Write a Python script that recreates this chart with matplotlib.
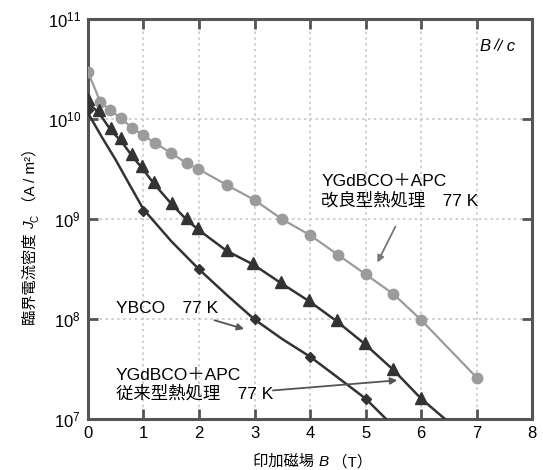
import matplotlib.pyplot as plt

plt.rcParams['font.family'] = ['Liberation Sans', 'Noto Sans CJK JP', 'DejaVu Sans']
plt.rcParams['mathtext.fontset'] = 'custom'
plt.rcParams['mathtext.rm'] = 'Liberation Sans'
plt.rcParams['mathtext.it'] = 'Liberation Sans:italic'

# YGdBCO+APC, improved heat treatment (77 K)
apc_new_b = [0, 0.22, 0.4, 0.59, 0.79, 0.99, 1.2, 1.49, 1.78, 1.99, 2.5, 3.0, 3.49, 4.0, 4.5, 5.0, 5.5, 6.0, 7.0]
apc_new_jc = [2.97e10, 1.49e10, 1.23e10, 1.02e10, 8.2e9, 6.9e9, 5.8e9, 4.6e9, 3.6e9, 3.16e9,
              2.19e9, 1.55e9, 1.0e9, 6.9e8, 4.4e8, 2.8e8, 1.78e8, 9.8e7, 2.6e7]

# YGdBCO+APC, conventional heat treatment (77 K)
apc_old_b = [0, 0.2, 0.42, 0.6, 0.79, 0.98, 1.19, 1.52, 1.78, 1.99, 2.5, 2.98, 3.47, 3.99, 4.48, 4.99, 5.5, 6.0]
apc_old_jc = [1.57e10, 1.23e10, 8.1e9, 6.4e9, 4.5e9, 3.4e9, 2.36e9, 1.44e9, 1.02e9, 8.1e8,
              4.9e8, 3.6e8, 2.36e8, 1.55e8, 9.8e7, 5.7e7, 3.14e7, 1.61e7]
apc_old_line_b = [0, 0.2, 0.42, 0.6, 0.79, 0.98, 1.19, 1.52, 1.78, 1.99, 2.5, 2.98, 3.47, 3.99, 4.48, 4.99, 5.5, 6.0, 6.43]
apc_old_line_jc = [1.45e10, 1.15e10, 7.6e9, 6.0e9, 4.3e9, 3.2e9, 2.25e9, 1.38e9, 9.8e8, 7.8e8,
                   4.8e8, 3.5e8, 2.3e8, 1.5e8, 9.5e7, 5.6e7, 3.1e7, 1.6e7, 1.0e7]

# YBCO (77 K)
ybco_b = [0, 1.0, 2.0, 3.0, 4.0, 5.0]
ybco_jc = [1.23e10, 1.21e9, 3.14e8, 9.9e7, 4.2e7, 1.57e7]
ybco_line_b = [0, 0.25, 0.5, 0.75, 1.0, 1.5, 2.0, 2.5, 3.0, 3.5, 4.0, 4.5, 5.0, 5.37]
ybco_line_jc = [1.15e10, 6.6e9, 3.9e9, 2.2e9, 1.25e9, 6.0e8, 3.14e8, 1.74e8, 9.9e7, 6.3e7, 4.2e7, 2.6e7, 1.6e7, 1.0e7]

x_ticks = [0, 1, 2, 3, 4, 5, 6, 7, 8]
y_ticks = [1e7, 1e8, 1e9, 1e10, 1e11]
y_tick_labels = ['$10^7$', '$10^8$', '$10^9$', '$10^{10}$', '$10^{11}$']

fig = plt.figure(figsize=(5.43, 4.70), dpi=100)
ax = fig.add_axes([0.162, 0.1085, 0.818, 0.851])

gray = '#9b9b9b'
dark = '#333333'

ax.plot(apc_new_b, apc_new_jc, '-', color=gray, lw=1.6, marker='o', ms=7.5, zorder=3)
ax.plot(apc_old_line_b, apc_old_line_jc, '-', color=dark, lw=1.8, zorder=3)
ax.plot(apc_old_b, apc_old_jc, '^', color=dark, ms=8.5, ls='none', zorder=4)
ax.plot(ybco_line_b, ybco_line_jc, '-', color=dark, lw=1.8, zorder=3)
ax.plot(ybco_b, ybco_jc, 'D', color=dark, ms=5.5, ls='none', zorder=4)

ax.set_yscale('log')
ax.set_xlim(0, 8)
ax.set_ylim(1e7, 1e11)
ax.set_xticks(x_ticks)
ax.set_yticks(y_ticks)
ax.set_yticklabels(y_tick_labels)
ax.minorticks_off()
ax.tick_params(direction='in', length=7, width=2, color='#555555', labelsize=12,
               top=True, right=True, pad=5)
ax.grid(True, which='major', ls=(0, (1.5, 2)), color='#c8c8c8', lw=1.2)
for s in ax.spines.values():
    s.set_linewidth(2.2)
    s.set_color('#555555')

# x label built in pieces so that B is italic while the kanji keep their font
lab_fs = 11
xl1 = fig.text(253 / 543, 1 - 462 / 470, '印加磁場 ', fontsize=lab_fs, ha='left', va='center')
xl2 = ax.annotate('B', xy=(1, 0), xycoords=xl1, ha='left', va='bottom',
                  fontsize=lab_fs, style='italic')
ax.annotate(' （T）', xy=(1, 0), xycoords=xl2, ha='left', va='bottom', fontsize=lab_fs)

# y label, rotated, same idea
yl1 = fig.text(30 / 543, 1 - 325 / 470, '臨界電流密度 ', fontsize=lab_fs, rotation=90,
               ha='center', va='bottom')
yl2 = ax.annotate('J', xy=(1, 1), xycoords=yl1, ha='right', va='bottom', rotation=90,
                  fontsize=lab_fs, style='italic')
yl3 = ax.annotate('C', xy=(1, 1), xycoords=yl2, xytext=(2.5, 0), textcoords='offset points',
                  ha='right', va='bottom', rotation=90, fontsize=7)
ax.annotate(' （A / m²）', xy=(1, 1), xycoords=(yl2, yl3), ha='right', va='bottom',
            rotation=90, fontsize=lab_fs)

ax.text(7.05, 5.2e10, 'B∥c', fontsize=12, style='italic', ha='left', va='center')

ax.text(4.2, 1.9e9, 'YGdBCO＋APC\n改良型熱処理　77 K', fontsize=12.5, ha='left', va='center',
        linespacing=1.2)
ax.annotate('', xy=(5.19, 3.47e8), xytext=(5.56, 8.9e8),
            arrowprops=dict(arrowstyle='-|>', color='#777777', lw=1.3, mutation_scale=10))

ax.text(0.5, 1.28e8, 'YBCO　77 K', fontsize=12.5, ha='left', va='center')
ax.annotate('', xy=(2.86, 7.8e7), xytext=(2.23, 9.9e7),
            arrowprops=dict(arrowstyle='-|>', color='#555555', lw=1.3, mutation_scale=10))

ax.text(0.5, 2.19e7, 'YGdBCO＋APC\n従来型熱処理　77 K', fontsize=12.5, ha='left', va='center',
        linespacing=1.2)
ax.annotate('', xy=(5.62, 2.45e7), xytext=(3.28, 1.92e7),
            arrowprops=dict(arrowstyle='-|>', color='#555555', lw=1.3, mutation_scale=10))

fig.savefig('out.png', dpi=100)
